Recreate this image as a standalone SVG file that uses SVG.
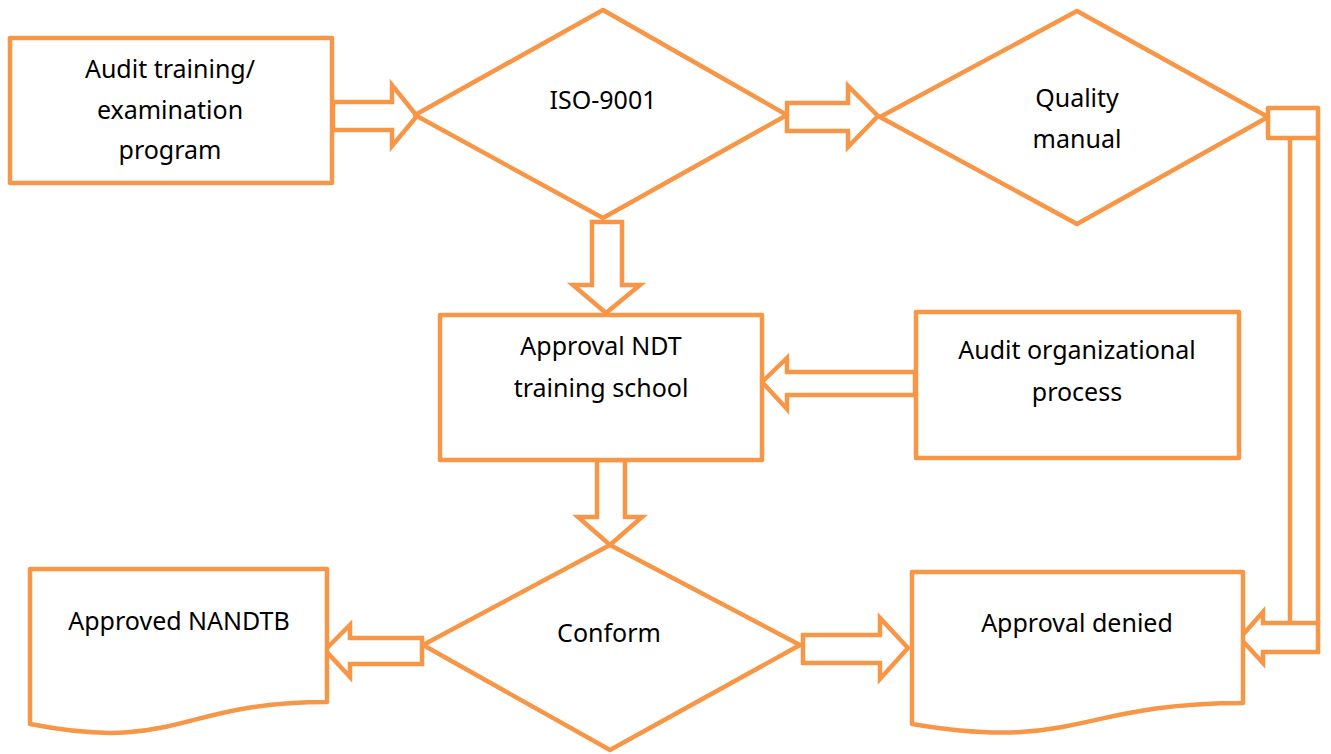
<svg xmlns="http://www.w3.org/2000/svg" width="1331" height="754" viewBox="0 0 1331 754">
<style>
.s{fill:#fff;stroke:#F79646;stroke-width:4.5;stroke-linejoin:round}
.c{fill:#fff;stroke:#F79646;stroke-width:4.5;stroke-linejoin:miter}
.l{fill:none;stroke:#F79646;stroke-width:4.5}
text{font-family:"Noto Sans","Open Sans",sans-serif;font-size:25px;fill:#000;text-anchor:middle}
</style>
<rect width="1331" height="754" fill="#fff"/>
<g id="connectors">
<polygon class="c" points="333,102 392,102 392,85 417,116 392,146 392,130 333,130"/>
<polygon class="c" points="787,103 848,103 848,86 878,116 848,147 848,131 787,131"/>
<polygon class="c" points="592,222 622,222 622,285 640,285 606,313 573,285 592,285"/>
<polygon class="c" points="915,372 787,372 787,358 762,382 787,409 787,395 915,395"/>
<polygon class="c" points="597,460 625,460 625,517 642,517 610,545 578,517 597,517"/>
<polygon class="c" points="422,638 350,638 350,625 325,650 350,677 350,664 422,664"/>
<polygon class="c" points="803,635 880,635 880,618 908,648 880,679 880,663 803,663"/>
<rect class="s" x="1268" y="108" width="50" height="30"/>
<path class="l" d="M1290,138 V623 M1318,138 V623"/>
<polygon class="c" points="1318,623 1263,623 1263,612 1240,638 1263,663 1263,652 1318,652"/>
</g>
<g id="audit-training">
<rect class="s" x="10" y="38" width="322" height="145"/>
<text x="170" y="78">Audit training/</text>
<text x="170" y="119">examination</text>
<text x="170" y="159">program</text>
</g>
<g id="iso-9001">
<polygon class="s" points="415,115 603,10 787,115 603,218"/>
<text x="603" y="109">ISO-9001</text>
</g>
<g id="quality-manual">
<polygon class="s" points="880,117 1077,11 1268,117 1077,224"/>
<text x="1077" y="107">Quality</text>
<text x="1077" y="148">manual</text>
</g>
<g id="approval-ndt">
<rect class="s" x="440" y="315" width="322" height="145"/>
<text x="601" y="355">Approval NDT</text>
<text x="601" y="397">training school</text>
</g>
<g id="audit-organizational">
<rect class="s" x="916" y="312" width="323" height="146"/>
<text x="1077" y="359">Audit organizational</text>
<text x="1077" y="401">process</text>
</g>
<g id="conform">
<polygon class="s" points="423,645 610,545 800,645 610,750"/>
<text x="609" y="642">Conform</text>
</g>
<g id="approved-nandtb">
<path class="s" d="M30,569 H327 V702 C178.5,702 178.5,753 30,724 Z"/>
<text x="179" y="630">Approved NANDTB</text>
</g>
<g id="approval-denied">
<path class="s" d="M912,572 H1243 V703 C1077.5,703 1077.5,752 912,724 Z"/>
<text x="1077" y="632">Approval denied</text>
</g>
</svg>
